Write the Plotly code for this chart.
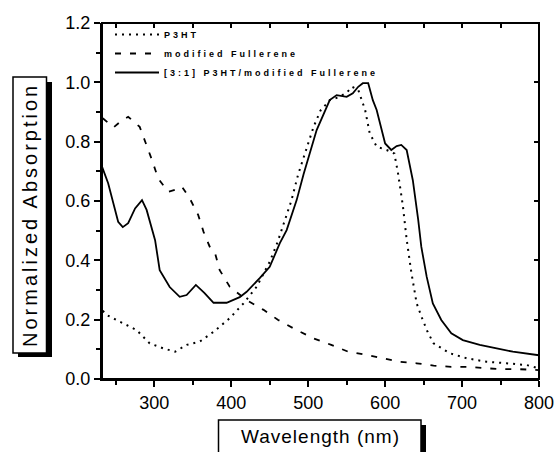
import plotly.graph_objects as go

# ---------------- data ----------------
p3ht_wl = [233, 238, 250, 260, 277, 294, 312, 327, 342, 359, 377, 398, 416, 433, 450, 460,
           468, 478, 487, 498, 507, 516, 528, 540, 550, 557, 565, 574, 580, 589, 602, 612,
           617, 623, 628, 634, 641, 648, 655, 663, 673, 684, 706, 732, 758, 784, 800]
p3ht = [0.230, 0.216, 0.200, 0.188, 0.165, 0.120, 0.103, 0.092, 0.115, 0.126, 0.159, 0.205,
        0.255, 0.311, 0.395, 0.460, 0.525, 0.600, 0.690, 0.780, 0.850, 0.905, 0.940, 0.950,
        0.965, 0.985, 0.975, 0.907, 0.828, 0.783, 0.772, 0.760, 0.690, 0.585, 0.470, 0.360,
        0.255, 0.205, 0.160, 0.120, 0.103, 0.087, 0.070, 0.058, 0.053, 0.047, 0.036]

ful_wl = [233, 247, 257, 266, 281, 290, 297, 305, 318, 330, 336, 346, 357, 364, 372, 379,
          385, 398, 420, 442, 461, 485, 507, 530, 552, 576, 597, 619, 641, 663, 686, 710,
          732, 753, 775, 800]
ful = [0.879, 0.848, 0.870, 0.884, 0.850, 0.789, 0.738, 0.676, 0.631, 0.640, 0.648, 0.609,
       0.553, 0.496, 0.446, 0.424, 0.367, 0.311, 0.266, 0.233, 0.199, 0.165, 0.137, 0.115,
       0.092, 0.081, 0.070, 0.058, 0.053, 0.045, 0.041, 0.041, 0.036, 0.033, 0.033, 0.030]

blend_wl = [232, 240, 247, 253, 259, 266, 275, 284, 290, 296, 301, 307, 320, 333, 342, 354,
            365, 377, 394, 411, 420, 437, 450, 463, 472, 485, 494, 511, 528, 537, 550, 558,
            565, 571, 578, 584, 589, 600, 608, 615, 621, 628, 636, 643, 647, 654, 662, 673,
            686, 701, 723, 745, 766, 800]
blend = [0.716, 0.660, 0.590, 0.530, 0.512, 0.525, 0.575, 0.603, 0.570, 0.510, 0.468, 0.367,
         0.310, 0.277, 0.283, 0.317, 0.290, 0.257, 0.257, 0.276, 0.294, 0.340, 0.378, 0.457,
         0.502, 0.603, 0.690, 0.839, 0.940, 0.957, 0.951, 0.963, 0.985, 0.997, 0.997, 0.940,
         0.907, 0.794, 0.772, 0.785, 0.789, 0.772, 0.670, 0.536, 0.446, 0.345, 0.255, 0.199,
         0.154, 0.131, 0.115, 0.103, 0.092, 0.080]

names = ["P3HT", "modified Fullerene", "[3:1] P3HT/modified Fullerene"]
x_ticks = [300, 400, 500, 600, 700, 800]
y_ticks = [0.0, 0.2, 0.4, 0.6, 0.8, 1.0, 1.2]
x_title = "Wavelength (nm)"
y_title = "Normalized Absorption"

# ---------------- layout geometry ----------------
W, H = 554, 452
L, R, T, B = 102, 539, 23, 379


def px2x(px):
    return (px - L) / (R - L)


def py2y(py):
    return (B - py) / (B - T)


fig = go.Figure()


def leg(name):
    return '<span style="letter-spacing:3px">' + name + '</span>'


fig.add_trace(go.Scatter(x=p3ht_wl, y=p3ht, mode="lines", name=leg(names[0]),
                         line=dict(color="black", width=2, dash="2px,5px"), legendgroup="a"))
fig.add_trace(go.Scatter(x=ful_wl, y=ful, mode="lines", name=leg(names[1]),
                         line=dict(color="black", width=1.8, dash="6px,9px"), legendgroup="b"))
fig.add_trace(go.Scatter(x=blend_wl, y=blend, mode="lines", name=leg(names[2]),
                         line=dict(color="black", width=1.8), legendgroup="c"))
# transparent trace on the secondary axes so the inward top/right ticks are drawn
fig.add_trace(go.Scatter(x=[300, 700], y=[0.2, 1.0], xaxis="x2", yaxis="y2", mode="markers",
                         marker=dict(size=1, color="rgba(0,0,0,0)"), showlegend=False,
                         hoverinfo="skip"))

tickfont = dict(family="Liberation Sans, Arial", size=18, color="black")
fig.update_layout(
    width=W, height=H, autosize=False,
    margin=dict(l=L, r=W - R, t=T, b=H - B, pad=0, autoexpand=False),
    paper_bgcolor="white", plot_bgcolor="white",
    showlegend=True,
    legend=dict(x=px2x(110), y=py2y(20), xanchor="left", yanchor="top",
                bgcolor="rgba(0,0,0,0)", itemwidth=44, tracegroupgap=0,
                font=dict(family="Liberation Sans, Arial", size=9, color="black", weight="bold")),
    xaxis=dict(range=[232, 800], tickvals=x_ticks, ticks="outside", ticklen=6, tickwidth=2,
               tickcolor="black", showline=True, linewidth=2, linecolor="black",
               showgrid=False, zeroline=False, tickfont=tickfont, ticklabeloverflow="allow",
               minor=dict(dtick=50, tick0=250, ticks="outside", ticklen=4, tickwidth=2,
                          tickcolor="black", showgrid=False)),
    yaxis=dict(range=[0, 1.2], tickvals=y_ticks, tickformat=".1f", ticks="outside", ticklen=6,
               tickwidth=2, tickcolor="black", showline=True, linewidth=2, linecolor="black",
               showgrid=False, zeroline=False, tickfont=tickfont,
               ticklabeloverflow="allow",
               minor=dict(dtick=0.1, tick0=0.1, ticks="outside", ticklen=4, tickwidth=2,
                          tickcolor="black", showgrid=False)),
    xaxis2=dict(range=[232, 800], overlaying="x", side="top", anchor="y2", tickvals=x_ticks,
                ticks="inside", ticklen=5, tickwidth=2, tickcolor="black", showline=False,
                showticklabels=False, showgrid=False, zeroline=False,
                minor=dict(dtick=50, tick0=250, ticks="inside", ticklen=5, tickwidth=2,
                           tickcolor="black", showgrid=False)),
    yaxis2=dict(range=[0, 1.2], overlaying="y", side="right", anchor="x2",
                tickvals=y_ticks[1:-1], ticks="inside", ticklen=5, tickwidth=2,
                tickcolor="black", showline=False, showticklabels=False, showgrid=False,
                zeroline=False),
)

shapes = []
# plot frame
shapes.append(dict(type="rect", xref="paper", yref="paper", x0=0, x1=1, y0=0, y1=1,
                   fillcolor="rgba(0,0,0,0)", line=dict(color="black", width=2), layer="above"))
# y title box with shadow
shapes.append(dict(type="rect", xref="paper", yref="paper", x0=px2x(18), x1=px2x(52),
                   y0=py2y(357), y1=py2y(82), fillcolor="black", line=dict(width=0)))
shapes.append(dict(type="rect", xref="paper", yref="paper", x0=px2x(13), x1=px2x(46.5),
                   y0=py2y(353), y1=py2y(77), fillcolor="white",
                   line=dict(color="black", width=1.5)))
# x title box with shadow
shapes.append(dict(type="rect", xref="paper", yref="paper", x0=px2x(224), x1=px2x(426),
                   y0=py2y(470), y1=py2y(425), fillcolor="black", line=dict(width=0)))
shapes.append(dict(type="rect", xref="paper", yref="paper", x0=px2x(218.5), x1=px2x(421),
                   y0=py2y(470), y1=py2y(420), fillcolor="white",
                   line=dict(color="black", width=1.5)))
fig.update_layout(shapes=shapes)

fig.add_annotation(xref="paper", yref="paper", x=px2x(30), y=py2y(215), showarrow=False,
                   textangle=-90, xanchor="center", yanchor="middle",
                   text='<span style="letter-spacing:3px">' + y_title + '</span>',
                   font=dict(family="Liberation Sans, Arial", size=20, color="black"))
fig.add_annotation(xref="paper", yref="paper", x=px2x(320), y=py2y(436), showarrow=False,
                   xanchor="center", yanchor="middle",
                   text='<span style="letter-spacing:1px">' + x_title + '</span>',
                   font=dict(family="Liberation Sans, Arial", size=19, color="black"))

fig.write_html("out.html", config={"displayModeBar": False},
               post_script="document.body.style.margin='0px';")
